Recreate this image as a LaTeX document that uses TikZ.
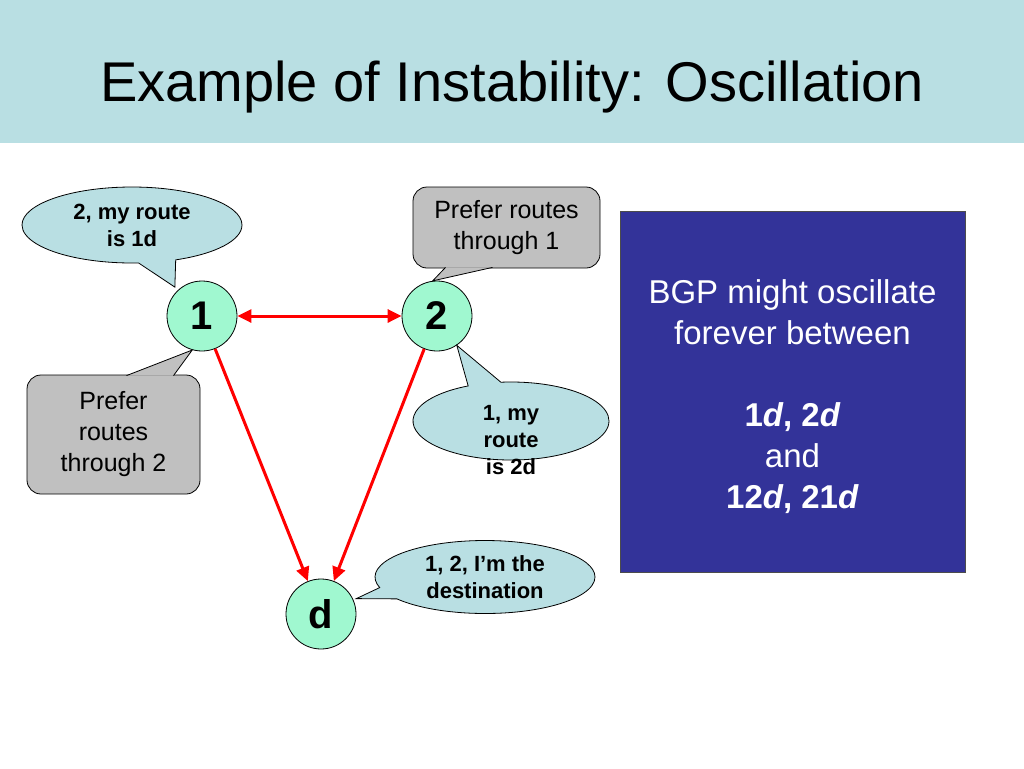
\documentclass[tikz,border=0pt]{standalone}
\usepackage{fontspec}
\setmainfont{Liberation Sans}
\usetikzlibrary{shapes.callouts,arrows.meta}
\definecolor{bandblue}{RGB}{185,223,227}
\definecolor{mint}{RGB}{160,248,208}
\definecolor{boxgray}{RGB}{192,192,192}
\definecolor{navy}{RGB}{51,51,153}
\definecolor{linkred}{RGB}{255,0,0}

\begin{document}
\begin{tikzpicture}[x=1pt, y=-1pt,
  router/.style = {circle, draw, line width=0.8pt, fill=mint,
    minimum size=70pt, inner sep=0pt,
    font=\fontsize{40}{48}\selectfont\bfseries},
  says/.style = {ellipse callout, draw, line width=0.8pt, fill=bandblue,
    inner sep=0pt, align=center, callout pointer arc=20,
    font=\fontsize{22}{27}\selectfont\bfseries},
  saystext/.style = {align=center, inner sep=0pt,
    font=\fontsize{22}{27}\selectfont\bfseries},
  prefers/.style = {rectangle, rounded corners=14pt, draw, line width=0.8pt,
    fill=boxgray, align=center, font=\fontsize{25}{31}\selectfont},
  prefertip/.style = {draw, line width=0.8pt, fill=boxgray},
  link/.style = {draw=linkred, line width=3pt},
  >={Triangle[length=14pt,width=13pt]}]
  \useasboundingbox (0,0) rectangle (1024,768);
  % title band
  \fill[bandblue] (0,0) rectangle (1024,143);
  \node (title) [anchor=base, font=\fontsize{56}{67}\selectfont]
    at (512,101) {Example of Instability: Oscillation};

  % routers
  \node (n1) [router] at (202,316) {1};
  \node (n2) [router] at (437,316) {2};
  \node (nd) [router] at (321,614) {d};

  \draw[link, <->] (n1) -- (n2);
  \draw[link, ->] (n1) -- (nd);
  \draw[link, ->] (n2) -- (nd);

  % what each router says
  \node (say1) [says, minimum width=220pt, minimum height=76pt,
    callout absolute pointer={([shift={(-3pt,3pt)}]n1.133)}]
    at (132,225) {2, my route\\ is 1d};
  \node (say2) [says, minimum width=196pt, minimum height=78pt,
    callout absolute pointer={(n2.-56)}] at (511,421) {};
  \node (say2txt) [saystext] at (511,440) {1, my\\ route\\ is 2d};
  \node (sayd) [says, minimum width=220pt, minimum height=73pt,
    callout absolute pointer={([shift={(3pt,1pt)}]nd.24)}]
    at (485,577) {1, 2, I’m the\\ destination};

  % preferences
  \node (pref2) [prefers, minimum width=187pt, minimum height=81pt]
    at (506.5,227.5) {Prefer routes\\ through 1};
  \filldraw[prefertip] ([xshift=-61pt,yshift=1pt]pref2.south)
    -- (n2.97) -- ([xshift=-14pt,yshift=1pt]pref2.south);
  \node (pref1) [prefers, minimum width=173pt, minimum height=119pt]
    at (113.5,434.5) {Prefer\\ routes\\ through 2};
  \filldraw[prefertip] ([xshift=13pt,yshift=-1pt]pref1.north)
    -- (n1.-106) -- ([xshift=60pt,yshift=-1pt]pref1.north);

  % summary
  \node (note) [rectangle, draw=black!70, line width=0.8pt, fill=navy,
    minimum width=345pt, minimum height=361pt] at (792.5,392) {};
  \node (notetxt) [text=white, align=center,
    font=\fontsize{33}{41}\selectfont] at (792.5,397)
    {BGP might oscillate\\ forever between\\[41pt]
     \textbf{1\textit{d}, 2\textit{d}}\\ and\\
     \textbf{12\textit{d}, 21\textit{d}}};
\end{tikzpicture}
\end{document}
